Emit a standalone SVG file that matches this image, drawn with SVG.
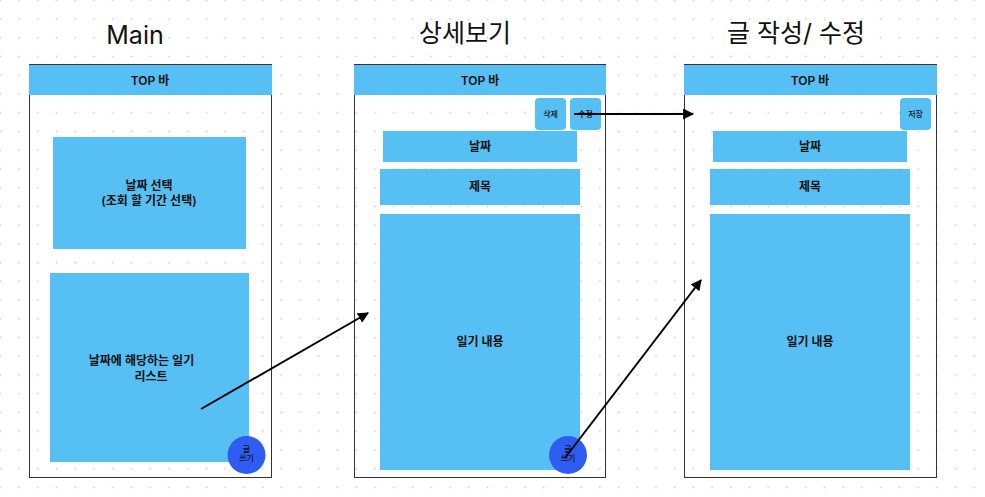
<svg xmlns="http://www.w3.org/2000/svg" width="985" height="497" viewBox="0 0 985 497">
  <defs>
    <pattern id="dots" x="-9" y="-9" width="18.73" height="18.73" patternUnits="userSpaceOnUse">
      <circle cx="9.4" cy="9.4" r="1" fill="#d2d2d2"/>
    </pattern>
    <marker id="arrow" viewBox="0 0 10 10" refX="9" refY="5" markerWidth="5.5" markerHeight="5.5" orient="auto" markerUnits="strokeWidth">
      <path d="M0,0 L10,5 L0,10 z" fill="#000"/>
    </marker>
    <style>
      .title { font-family: "Inter", "Noto Sans CJK KR", sans-serif; font-size: 25px; fill: #111; text-anchor: middle; }
      .lbl { font-family: "Inter", "Noto Sans CJK KR", sans-serif; font-size: 12px; font-weight: 600; fill: #111; text-anchor: middle; }
      .small { font-family: "Inter", "Noto Sans CJK KR", sans-serif; font-size: 8px; font-weight: 500; fill: #111; text-anchor: middle; }
      .frame { fill: none; stroke: #333; stroke-width: 1; }
      .blue { fill: #56C0F4; }
      .fab { fill: #2F5DF1; }
      .conn { stroke: #000; stroke-width: 2; fill: none; marker-end: url(#arrow); }
    </style>
  </defs>
  <rect width="985" height="497" fill="#fff"/>
  <rect width="985" height="497" fill="url(#dots)"/>

  <text class="title" x="135" y="44">Main</text>
  <text class="title" x="465" y="42">상세보기</text>
  <text class="title" x="796" y="42">글 작성/ 수정</text>

  <g id="main-screen">
    <rect class="frame" x="29.5" y="64.5" width="242" height="413"/>
    <rect class="blue" x="29" y="65" width="243" height="30"/>
    <text class="lbl" x="150" y="84.5">TOP 바</text>
  </g>
  <g id="main-date-select">
    <rect class="blue" x="53" y="137" width="193" height="112"/>
    <text class="lbl" x="149" y="190">날짜 선택</text>
    <text class="lbl" x="149" y="205">(조회 할 기간 선택)</text>
  </g>
  <g id="main-list">
    <rect class="blue" x="50" y="273" width="199" height="189"/>
    <text class="lbl" x="141.5" y="365">날짜에 해당하는 일기</text>
    <text class="lbl" x="151" y="381">리스트</text>
  </g>
  <g id="main-write-btn">
    <circle class="fab" cx="246.5" cy="455" r="19"/>
    <text class="small" x="246.5" y="452">글</text>
    <text class="small" x="246.5" y="461">쓰기</text>
  </g>

  <g id="detail-screen">
    <rect class="frame" x="354.5" y="64.5" width="251" height="413"/>
    <rect class="blue" x="354" y="65" width="252" height="30"/>
    <text class="lbl" x="480" y="84.5">TOP 바</text>
  </g>
  <g id="detail-delete-btn">
    <rect class="blue" x="535" y="98" width="31" height="32" rx="4"/>
    <text class="small" x="550.5" y="117">삭제</text>
  </g>
  <g id="detail-edit-btn">
    <rect class="blue" x="570" y="98" width="31" height="32" rx="4"/>
    <text class="small" x="585.5" y="117">수정</text>
  </g>
  <g id="detail-date">
    <rect class="blue" x="383" y="131" width="194" height="31"/>
    <text class="lbl" x="480" y="151">날짜</text>
  </g>
  <g id="detail-title">
    <rect class="blue" x="380" y="169" width="200" height="36"/>
    <text class="lbl" x="480" y="191">제목</text>
  </g>
  <g id="detail-content">
    <rect class="blue" x="380" y="214" width="200" height="256"/>
    <text class="lbl" x="480" y="346">일기 내용</text>
  </g>
  <g id="detail-write-btn">
    <circle class="fab" cx="568" cy="455" r="19"/>
    <text class="small" x="568" y="452">글</text>
    <text class="small" x="568" y="461">쓰기</text>
  </g>

  <g id="edit-screen">
    <rect class="frame" x="684.5" y="64.5" width="252" height="413"/>
    <rect class="blue" x="684" y="65" width="253" height="30"/>
    <text class="lbl" x="810" y="84.5">TOP 바</text>
  </g>
  <g id="edit-save-btn">
    <rect class="blue" x="900" y="98" width="31" height="32" rx="4"/>
    <text class="small" x="915.5" y="117">저장</text>
  </g>
  <g id="edit-date">
    <rect class="blue" x="713" y="131" width="194" height="31"/>
    <text class="lbl" x="810" y="151">날짜</text>
  </g>
  <g id="edit-title">
    <rect class="blue" x="710" y="169" width="200" height="36"/>
    <text class="lbl" x="810" y="191">제목</text>
  </g>
  <g id="edit-content">
    <rect class="blue" x="710" y="214" width="200" height="256"/>
    <text class="lbl" x="810" y="346">일기 내용</text>
  </g>

  <g id="connectors">
    <line class="conn" x1="201" y1="409" x2="368" y2="313"/>
    <line class="conn" x1="574" y1="114" x2="693" y2="114"/>
    <line class="conn" x1="565" y1="458" x2="701" y2="280"/>
  </g>
</svg>
